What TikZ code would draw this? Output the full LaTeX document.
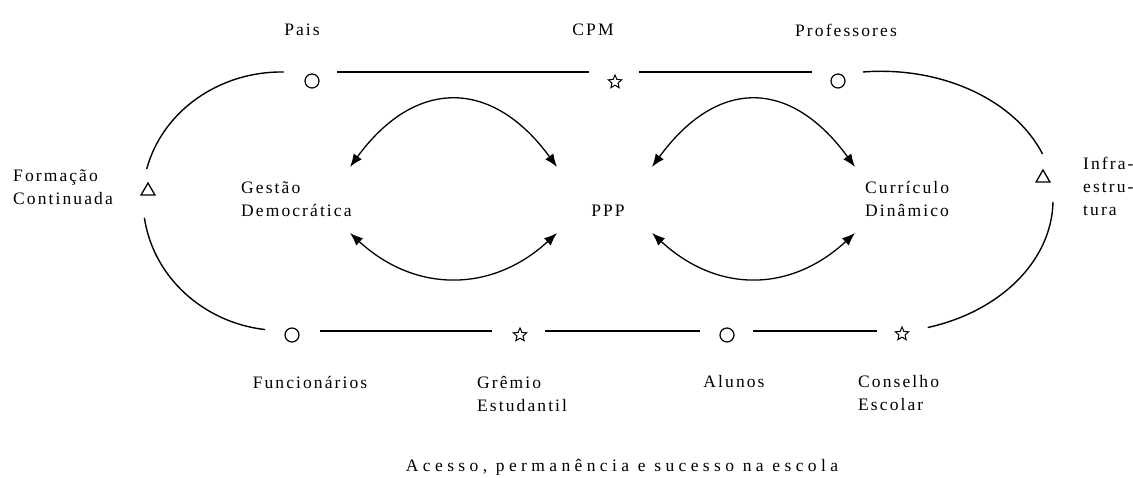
\documentclass[tikz,border=0pt]{standalone}
\usepackage{fontspec}
\setmainfont{Liberation Serif}
\usetikzlibrary{arrows.meta,shapes.geometric}
\begin{document}
\begin{tikzpicture}[x=1pt,y=-1pt,
  lbl/.style={font=\fontsize{17.5}{23}\selectfont\addfontfeature{LetterSpace=12}, inner sep=0pt, align=left},
  circ/.style={draw, circle, line width=1.2pt, minimum size=14pt, inner sep=0pt},
  starsym/.style={draw, star, star points=5, star point ratio=2.2, line width=1pt, minimum size=14pt, inner sep=0pt},
  tri/.style={draw, regular polygon, regular polygon sides=3, line width=1.3pt, minimum size=16pt, inner sep=0pt},
  conn/.style={line width=1.4pt},
  dbl/.style={line width=1.3pt, {Latex[length=13pt,width=10pt]}-{Latex[length=13pt,width=10pt]}}
]
\path[use as bounding box] (0,0) rectangle (1133,478);
% symbols
\node[circ] (pais) at (312,81) {};
\node[starsym] (cpm) at (615,82) {};
\node[circ] (prof) at (838,81) {};
\node[tri] (fc) at (148,191) {};
\node[tri] (infra) at (1043,178) {};
\node[circ] (func) at (292,335) {};
\node[starsym] (gremio) at (520,335) {};
\node[circ] (alunos) at (727,335) {};
\node[starsym] (conselho) at (902,334) {};
% labels
\node[lbl] (paisl) at (302,30) {Pais};
\node[lbl] (cpml) at (593,30) {CPM};
\node[lbl] (profl) at (846,30) {Professores};
\node[lbl, anchor=west] (fcl) at (13,187) {Formação\\Continuada};
\node[lbl, anchor=west] (infral) at (1083,186) {Infra-\\estru-\\tura};
\node[lbl] (funcl) at (310,383) {Funcionários};
\node[lbl, anchor=west] (gremiol) at (477,394) {Grêmio\\Estudantil};
\node[lbl] (alunosl) at (734,382) {Alunos};
\node[lbl, anchor=west] (consl) at (858,393) {Conselho\\Escolar};
\node[lbl, anchor=west] (gd) at (241,199) {Gestão\\Democrática};
\node[lbl] (ppp) at (608,211) {PPP};
\node[lbl, anchor=west] (cd) at (865,199) {Currículo\\Dinâmico};
\node[font=\fontsize{17.5}{20}\selectfont\addfontfeature{LetterSpace=25}, inner sep=0pt] (cap) at (622,467) {Acesso, permanência e sucesso na escola};
% ring lines
\draw[conn] ([shift={(25,-9)}]pais.center) -- ([shift={(-26,-10)}]cpm.center);
\draw[conn] ([shift={(24,-10)}]cpm.center) -- ([shift={(-26,-9)}]prof.center);
\draw[conn] ([shift={(28,-4)}]func.center) -- ([shift={(-28,-4)}]gremio.center);
\draw[conn] ([shift={(25,-4)}]gremio.center) -- ([shift={(-27,-4)}]alunos.center);
\draw[conn] ([shift={(26,-4)}]alunos.center) -- ([shift={(-25,-3)}]conselho.center);
% arcs
\draw[conn] ([shift={(-28,-9)}]pais.center) arc[start angle=-89, end angle=-166, x radius=139, y radius=128];
\draw[conn] ([shift={(-3.6,26.8)}]fc.center) arc[start angle=172, end angle=97, x radius=139, y radius=131];
\draw[conn] ([shift={(25,-9)}]prof.center) arc[start angle=-96, end angle=-21, x radius=173, y radius=129];
\draw[conn] ([shift={(10,24)}]infra.center) arc[start angle=1, end angle=74, x radius=173, y radius=133];
% double arrows
\draw[dbl] ([shift={(-258,-44)}]ppp.center) .. controls (415,78) and (492,78) .. ([shift={(-51,-44)}]ppp.center);
\draw[dbl] ([shift={(-258,22)}]ppp.center) .. controls (415,293) and (492,293) .. ([shift={(-51,22)}]ppp.center);
\draw[dbl] ([shift={(44,-44)}]ppp.center) .. controls (717,78) and (790,78) .. ([shift={(247,-44)}]ppp.center);
\draw[dbl] ([shift={(44,22)}]ppp.center) .. controls (717,293) and (790,293) .. ([shift={(247,22)}]ppp.center);
\end{tikzpicture}
\end{document}
